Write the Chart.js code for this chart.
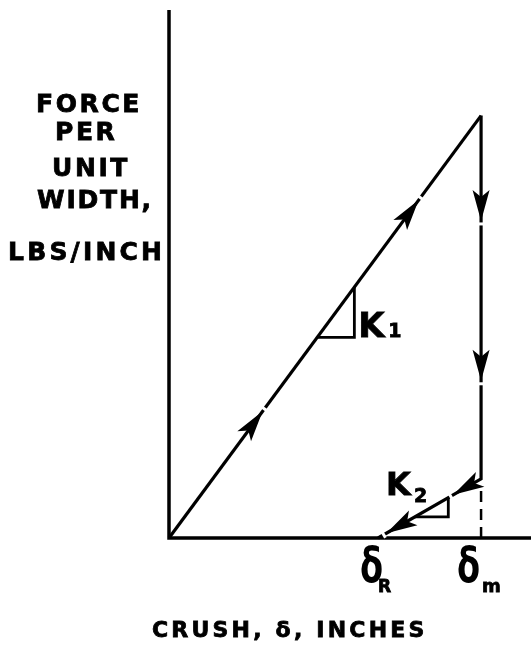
<!DOCTYPE html>
<html>
<head>
<meta charset="utf-8">
<script src="https://cdn.jsdelivr.net/npm/chart.js@4"></script>
<style>
  html, body { margin: 0; padding: 0; background: #fff; }
  #wrap { width: 531px; height: 645px; }
</style>
</head>
<body>
<div id="wrap"><canvas id="crush" width="531" height="645"></canvas></div>
<script>
// crush in units of delta_m, force in units of the peak force
const axisCrush = [0, 0, 1.16];
const axisForce = [1.25, 0, 0];
const loadCrush = [0, 1.0];
const loadForce = [0, 1.0];
const unloadCrush = [1.0, 1.0, 0.67];
const unloadForce = [1.0, 0.14, 0];
const dropCrush = [1.0, 1.0];
const dropForce = [0, 0.12];
const k1Crush = [0.475, 0.594, 0.594];
const k1Force = [0.475, 0.475, 0.594];
const k2Crush = [0.788, 0.895, 0.895];
const k2Force = [0.05, 0.05, 0.0955];

function pts(xs, ys) {
    return xs.map((x, i) => ({x: x, y: ys[i]}));
}

const BOLD = '"DejaVu Sans", "Liberation Sans", sans-serif';

// filled barbed arrowheads sitting on the path segments
const arrowPlugin = {
    id: 'arrows',
    afterDatasetsDraw(chart, args, opts) {
        const ctx = chart.ctx;
        opts.marks.forEach(m => {
            const el = chart.getDatasetMeta(m.ds).data;
            const a = el[m.seg], b = el[m.seg + 1];
            const dx = b.x - a.x, dy = b.y - a.y;
            const len = Math.hypot(dx, dy);
            const ux = dx / len, uy = dy / len;
            const nx = -uy, ny = ux;
            const tx = a.x + dx * m.at, ty = a.y + dy * m.at;
            const L = opts.length, W = opts.width / 2, N = opts.notch;
            ctx.save();
            // small break in the line just past the tip
            ctx.strokeStyle = '#fff';
            ctx.lineWidth = 7;
            ctx.beginPath();
            ctx.moveTo(tx + ux * 1.5, ty + uy * 1.5);
            ctx.lineTo(tx + ux * 4.5, ty + uy * 4.5);
            ctx.stroke();
            ctx.fillStyle = '#000';
            ctx.beginPath();
            ctx.moveTo(tx, ty);
            ctx.lineTo(tx - ux * L + nx * W, ty - uy * L + ny * W);
            ctx.lineTo(tx - ux * (L - N), ty - uy * (L - N));
            ctx.lineTo(tx - ux * L - nx * W, ty - uy * L - ny * W);
            ctx.closePath();
            ctx.fill();
            ctx.restore();
        });
    }
};

// bold text with a thin outline to give the heavy lettering
function spaced(ctx, text, x, y, size, spacing) {
    ctx.font = 'bold ' + size + 'px ' + BOLD;
    ctx.letterSpacing = spacing + 'px';
    ctx.fillText(text, x, y);
    ctx.strokeText(text, x, y);
    ctx.letterSpacing = '0px';
}

// axis titles, slope names and crush markers
const labelPlugin = {
    id: 'labels',
    afterDraw(chart) {
        const ctx = chart.ctx;
        const xs = chart.scales.x, ys = chart.scales.y;
        ctx.save();
        ctx.fillStyle = '#000';
        ctx.strokeStyle = '#000';
        ctx.lineWidth = 0.8;
        ctx.textAlign = 'left';
        ctx.textBaseline = 'alphabetic';

        spaced(ctx, 'FORCE', 36, 112, 25, 2.6);
        spaced(ctx, 'PER', 55, 140, 25, 2.6);
        spaced(ctx, 'UNIT', 52, 176, 25, 2.6);
        spaced(ctx, 'WIDTH,', 37, 208, 25, 1.8);
        spaced(ctx, 'LBS/INCH', 8, 260, 25, 3.2);

        spaced(ctx, 'CRUSH, δ, INCHES', 152, 637, 22, 3.2);

        // K1 beside its slope triangle
        const k1x = xs.getPixelForValue(k1Crush[1]);
        const k1y = ys.getPixelForValue(k1Force[1]);
        spaced(ctx, 'K', k1x + 4, k1y, 34, 0);
        spaced(ctx, '1', k1x + 34, k1y, 19, 0);

        // K2 above the unloading slope
        const k2x = xs.getPixelForValue(k2Crush[0]);
        const k2y = ys.getPixelForValue(k2Force[0]);
        spaced(ctx, 'K', k2x - 29, k2y - 22, 32, 0);
        spaced(ctx, '2', k2x - 1, k2y - 15, 19, 0);

        // delta markers under the crush axis
        const base = ys.getPixelForValue(0);
        const marks = [
            {v: unloadCrush[2], sub: 'R', dx: -18, subDx: 0, subSize: 17},
            {v: unloadCrush[0], sub: 'm', dx: -24, subDx: 1, subSize: 18}
        ];
        marks.forEach(mk => {
            const px = xs.getPixelForValue(mk.v);
            ctx.save();
            ctx.translate(px + mk.dx, base + 44);
            ctx.scale(0.7, 1);
            ctx.font = 'bold 48px ' + BOLD;
            ctx.fillText('δ', 0, 0);
            ctx.restore();
            spaced(ctx, mk.sub, px + mk.subDx, base + 54, mk.subSize, 0);
        });
        ctx.restore();
    }
};

const line = (data, w, extra) => Object.assign({
    data: data,
    showLine: true,
    borderColor: '#000',
    borderWidth: w,
    pointRadius: 0,
    fill: false,
    tension: 0,
    clip: false,
    borderJoinStyle: 'miter'
}, extra || {});

new Chart(document.getElementById('crush'), {
    type: 'scatter',
    data: {
        datasets: [
            line(pts(axisCrush, axisForce), 3.5),
            line(pts(loadCrush, loadForce), 3.2),
            line(pts(unloadCrush, unloadForce), 3.2),
            line(pts(dropCrush, dropForce), 2.5, {borderDash: [11, 7]}),
            line(pts(k1Crush, k1Force), 2.8),
            line(pts(k2Crush, k2Force), 2.8)
        ]
    },
    options: {
        responsive: false,
        animation: false,
        events: [],
        layout: {padding: {left: 169, right: 0, top: 10, bottom: 107}},
        scales: {
            x: {type: 'linear', min: 0, max: 1.16, display: false},
            y: {type: 'linear', min: 0, max: 1.25, display: false}
        },
        plugins: {
            legend: {display: false},
            tooltip: {enabled: false},
            arrows: {
                length: 31,
                width: 17,
                notch: 7,
                marks: [
                    {ds: 1, seg: 0, at: 0.30},
                    {ds: 1, seg: 0, at: 0.80},
                    {ds: 2, seg: 0, at: 0.29},
                    {ds: 2, seg: 0, at: 0.73},
                    {ds: 2, seg: 1, at: 0.27},
                    {ds: 2, seg: 1, at: 0.92}
                ]
            }
        }
    },
    plugins: [arrowPlugin, labelPlugin]
});
</script>
</body>
</html>
